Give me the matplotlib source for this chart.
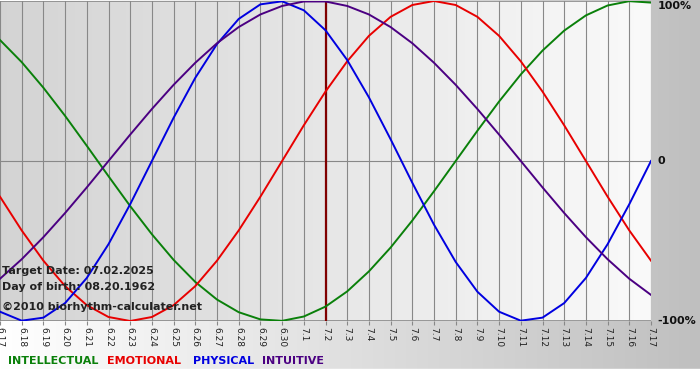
import numpy as np
import matplotlib
matplotlib.use("Agg")
import matplotlib.pyplot as plt

dates = ["6.17", "6.18", "6.19", "6.20", "6.21", "6.22", "6.23", "6.24", "6.25", "6.26",
         "6.27", "6.28", "6.29", "6.30", "7.1", "7.2", "7.3", "7.4", "7.5", "7.6",
         "7.7", "7.8", "7.9", "7.10", "7.11", "7.12", "7.13", "7.14", "7.15", "7.16", "7.17"]

intellectual = [0.756, 0.618, 0.458, 0.282, 0.095, -0.095, -0.282, -0.458, -0.618, -0.756,
                -0.866, -0.945, -0.990, -0.999, -0.972, -0.910, -0.815, -0.690, -0.541, -0.372,
                -0.189, 0.0, 0.189, 0.372, 0.541, 0.690, 0.815, 0.910, 0.972, 0.999, 0.990]
emotional = [-0.223, -0.434, -0.623, -0.782, -0.901, -0.975, -1.0, -0.975, -0.901, -0.782,
             -0.623, -0.434, -0.223, 0.0, 0.223, 0.434, 0.623, 0.782, 0.901, 0.975,
             1.0, 0.975, 0.901, 0.782, 0.623, 0.434, 0.223, 0.0, -0.223, -0.434, -0.623]
physical = [-0.942, -0.998, -0.979, -0.888, -0.731, -0.520, -0.270, 0.0, 0.270, 0.520,
            0.731, 0.888, 0.979, 0.998, 0.942, 0.817, 0.631, 0.398, 0.136, -0.136,
            -0.398, -0.631, -0.817, -0.942, -0.998, -0.979, -0.888, -0.731, -0.520, -0.270, 0.0]
intuitive = [-0.736, -0.614, -0.476, -0.325, -0.165, 0.0, 0.165, 0.325, 0.476, 0.614,
             0.736, 0.837, 0.916, 0.969, 0.997, 0.997, 0.969, 0.916, 0.837, 0.736,
             0.614, 0.476, 0.325, 0.165, 0.0, -0.165, -0.325, -0.476, -0.614, -0.736, -0.837]

series_names = ["INTELLECTUAL", "EMOTIONAL", "PHYSICAL", "INTUITIVE"]
series_colors = ["#0a800a", "#e80000", "#0000e0", "#4b0082"]
target_index = dates.index("7.2")
info_lines = ["Target Date: 07.02.2025", "Day of birth: 08.20.1962", "\u00a92010 biorhythm-calculater.net"]
y_labels = ["100%", "0", "-100%"]
y_label_vals = [1.0, 0.0, -1.0]

W, H = 700, 380
fig = plt.figure(figsize=(W / 100, H / 100), dpi=100)

# figure background gradient
bg = fig.add_axes([0, 0, 1, 1], zorder=-10)
grad = np.linspace(1.0, 0.75, 256).reshape(1, -1)
bg.imshow(np.dstack([grad, grad, grad]), aspect="auto", extent=[0, 1, 0, 1])
bg.axhspan(0, 11 / H, color="white")
bg.set_xlim(0, 1)
bg.set_ylim(0, 1)
bg.axis("off")

ax = fig.add_axes([0, (H - 321) / H, 651 / W, 320 / H])
x = np.arange(len(dates))
ax.set_xlim(0, len(dates) - 1)
ax.set_ylim(-1, 1)

pg = np.linspace(0.83, 0.98, 256).reshape(1, -1)
ax.imshow(np.dstack([pg, pg, pg]), aspect="auto", extent=[0, len(dates) - 1, -1, 1], zorder=0)

for xi in x:
    ax.axvline(xi, color="#888888", lw=0.8, zorder=1)
ax.axhline(0, color="#888888", lw=0.8, zorder=1)
ax.axhline(1, color="#888888", lw=1.2, zorder=1)
ax.axhline(-1, color="#888888", lw=1.2, zorder=1)

ax.axvline(target_index, color="#800000", lw=1.6, zorder=2)

for vals, col in zip([intellectual, emotional, physical, intuitive], series_colors):
    ax.plot(x, vals, color=col, lw=1.4, zorder=3, solid_joinstyle="round", antialiased=True)

for s in ax.spines.values():
    s.set_visible(False)
ax.set_xticks(x)
ax.set_xticklabels(dates, rotation=270, fontsize=6.5, color="#222222")
ax.tick_params(axis="x", length=3, width=0.8, color="#888888", pad=1)
ax.set_yticks([])

label_va = ["top", "center", "center"]
for lab, v, va in zip(y_labels, y_label_vals, label_va):
    ax.text(1.01, v, lab, transform=ax.get_yaxis_transform(), ha="left", va=va,
            fontsize=8, fontweight="bold", color="#111111")

info_y = [271, 287, 307]
for line, yy in zip(info_lines, info_y):
    fig.text(2 / W, 1 - yy / H, line, ha="left", va="center",
             fontsize=8, fontweight="bold", color="#222222", zorder=5)

leg_x = [8, 107, 193, 262]
for name, col, lx in zip(series_names, series_colors, leg_x):
    fig.text(lx / W, 1 - 361 / H, name, ha="left", va="center", fontsize=8,
             fontweight="bold", color=col)

fig.savefig("out.png", dpi=100)
